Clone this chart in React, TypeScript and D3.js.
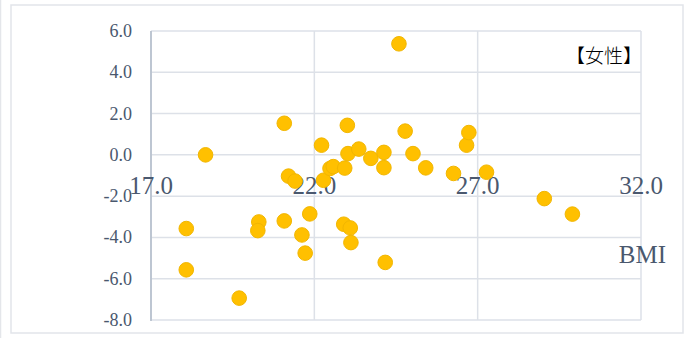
import React from "react";
import * as d3 from "d3";

// BMI vs. change (women)
const bmi: number[] = [
  18.08, 18.08, 18.67, 19.7, 20.3, 20.27, 21.08, 21.08, 21.21, 21.41,
  21.62, 21.72, 21.86, 22.22, 22.28, 22.48, 22.58, 22.93, 22.9, 23.01,
  23.03, 23.1, 23.12, 23.36, 23.73, 24.13, 24.13, 24.17, 24.59, 24.78,
  25.02, 25.41, 26.26, 26.66, 26.73, 27.27, 29.04, 29.9,
];
const change: number[] = [
  -3.57, -5.57, 0.0, -6.94, -3.25, -3.67, 1.53, -3.2, -1.03, -1.27,
  -3.88, -4.76, -2.86, 0.47, -1.23, -0.66, -0.57, -0.64, -3.36, 1.43,
  0.06, -3.54, -4.25, 0.28, -0.17, 0.12, -0.62, -5.21, 5.38, 1.15,
  0.06, -0.63, -0.9, 0.47, 1.08, -0.84, -2.12, -2.87,
];
const xTicks: number[] = [17, 22, 27, 32];
const yTicks: number[] = [6, 4, 2, 0, -2, -4, -6, -8];
const title = "【女性】";
const xAxisTitle = "BMI";

const W = 690;
const H = 338;
const plot = { left: 151, right: 641, top: 31, bottom: 320 };

const labelColor = "#4A586E";
const gridColor = "#DDE1E8";
const serif = "'Liberation Serif', 'Times New Roman', serif";

// one decimal, plain hyphen for negatives
const fmt = (v: number) => d3.format(".1f")(v).replace("\u2212", "-");

export default function App() {
  const x = d3.scaleLinear().domain([17, 32]).range([plot.left, plot.right]);
  const y = d3.scaleLinear().domain([-8, 6]).range([plot.bottom, plot.top]);
  const points = d3.zip(bmi, change);

  return (
    <svg
      width={W}
      height={H}
      style={{ position: "absolute", left: 0, top: 0, background: "#fff" }}
    >
      {/* chart frame */}
      <line x1={0.5} y1={0} x2={0.5} y2={H} stroke="#E4E6EA" strokeWidth={1.5} />
      <rect
        x={11}
        y={5}
        width={672}
        height={328}
        fill="#fff"
        stroke="#E2E5EA"
        strokeWidth={1.5}
      />

      {/* gridlines */}
      {yTicks.map((t) => (
        <line
          key={"gy" + t}
          x1={plot.left}
          x2={plot.right}
          y1={y(t)}
          y2={y(t)}
          stroke={gridColor}
          strokeWidth={1.5}
        />
      ))}
      {xTicks.map((t) => (
        <line
          key={"gx" + t}
          x1={x(t)}
          x2={x(t)}
          y1={plot.top}
          y2={plot.bottom}
          stroke={gridColor}
          strokeWidth={1.5}
        />
      ))}
      {/* vertical axis line */}
      <line
        x1={plot.left}
        x2={plot.left}
        y1={plot.top}
        y2={plot.bottom + 1}
        stroke="#B9C2CF"
        strokeWidth={1.8}
      />

      {/* y tick labels */}
      {yTicks.map((t) => (
        <text
          key={"ly" + t}
          x={132}
          y={y(t)}
          textAnchor="end"
          dominantBaseline="central"
          fontFamily={serif}
          fontSize={18}
          fill={labelColor}
        >
          {fmt(t)}
        </text>
      ))}

      {/* x tick labels, placed along the -2.0 line */}
      {xTicks.map((t) => (
        <text
          key={"lx" + t}
          x={x(t)}
          y={y(-2) - 2}
          textAnchor="middle"
          fontFamily={serif}
          fontSize={25}
          fill={labelColor}
        >
          {fmt(t)}
        </text>
      ))}

      {/* points */}
      {points.map(([bx, cy], i) => (
        <circle
          key={i}
          cx={x(bx)}
          cy={y(cy)}
          r={7.3}
          fill="#FFC000"
          stroke="#F2B600"
          strokeWidth={1}
        />
      ))}

      {/* titles */}
      <text
        x={642}
        y={63}
        textAnchor="end"
        fontFamily="'Noto Sans CJK JP', sans-serif"
        fontWeight={300}
        fontSize={19}
        fill="#000"
      >
        {title}
      </text>
      <text
        x={666}
        y={263}
        textAnchor="end"
        fontFamily={serif}
        fontSize={25}
        fill={labelColor}
      >
        {xAxisTitle}
      </text>
    </svg>
  );
}
